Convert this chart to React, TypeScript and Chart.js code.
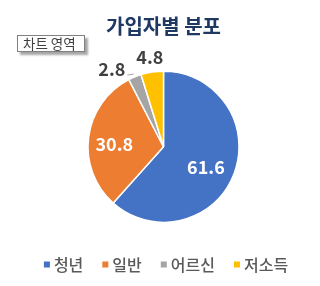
import React, { useEffect, useRef } from "react";
import { Chart, registerables } from "chart.js";

Chart.register(...registerables);

const chartTitle = "가입자별 분포";
const categories = ["청년", "일반", "어르신", "저소득"];
const values = [61.6, 30.8, 2.8, 4.8];
const colors = ["#4472C4", "#ED7D31", "#A5A5A5", "#FFC000"];
const areaTipText = "차트 영역";

const FONT = '"Noto Sans CJK KR", "Noto Sans", sans-serif';

const pieLabelsPlugin = {
  id: "pieLabels",
  afterDatasetsDraw(chart: any) {
    const ctx = chart.ctx;
    const meta = chart.getDatasetMeta(0);
    const ds = chart.data.datasets[0];
    const data = ds.data as number[];
    const total = data.reduce((a: number, b: number) => a + b, 0);
    ctx.save();
    ctx.font = `bold 18px ${FONT}`;
    ctx.textAlign = "center";
    ctx.textBaseline = "middle";
    const outside: any[] = [];
    meta.data.forEach((arc: any, i: number) => {
      const { x, y, startAngle, endAngle, outerRadius } = arc.getProps(
        ["x", "y", "startAngle", "endAngle", "outerRadius"],
        true
      );
      const mid = (startAngle + endAngle) / 2;
      const v = data[i];
      const text = v.toFixed(1);
      const w = ctx.measureText(text).width;
      const c = Math.cos(mid);
      const s = Math.sin(mid);
      if (v / total > 0.1) {
        const r = outerRadius * 0.63;
        ctx.fillStyle = "#FFFFFF";
        ctx.fillText(text, x + c * r - 2, y + s * r + 3);
      } else {
        const r = outerRadius + 15;
        outside.push({
          text,
          w,
          lx: x + c * r,
          ly: y + s * r,
          ax: x + c * (outerRadius + 3),
          ay: y + s * (outerRadius + 3),
          moved: false,
        });
      }
    });
    for (let i = outside.length - 2; i >= 0; i--) {
      const a = outside[i];
      const b = outside[i + 1];
      const gap = 11;
      if (a.lx + a.w / 2 + gap > b.lx - b.w / 2) {
        a.lx = b.lx - b.w / 2 - gap - a.w / 2;
        a.ly += 6;
        a.moved = true;
      }
    }
    outside.forEach((o) => {
      if (o.moved) {
        ctx.strokeStyle = "#A6A6A6";
        ctx.lineWidth = 1;
        ctx.beginPath();
        ctx.moveTo(o.lx + o.w / 2 + 2, o.ly + 6);
        ctx.lineTo(o.ax, o.ay);
        ctx.stroke();
      }
      ctx.fillStyle = "#404040";
      ctx.fillText(o.text, o.lx, o.ly);
    });
    ctx.restore();
  },
  afterDraw(chart: any) {
    const ctx = chart.ctx;
    const labels = chart.data.labels as string[];
    const bg = chart.data.datasets[0].backgroundColor as string[];
    ctx.save();
    ctx.font = `500 16px ${FONT}`;
    ctx.textBaseline = "middle";
    ctx.textAlign = "left";
    const box = 6;
    const boxGap = 4;
    const itemGap = 19;
    const widths = labels.map((l) => box + boxGap + ctx.measureText(l).width);
    const total = widths.reduce((a, b) => a + b, 0) + itemGap * (labels.length - 1);
    let x = chart.width / 2 + 6 - total / 2;
    const cy = 264.5;
    labels.forEach((l, i) => {
      ctx.fillStyle = bg[i];
      ctx.fillRect(x, cy - box / 2, box, box);
      ctx.fillStyle = "#595959";
      ctx.fillText(l, x + box + boxGap, cy);
      x += widths[i] + itemGap;
    });
    ctx.restore();
  },
};

export default function App() {
  const canvasRef = useRef<HTMLCanvasElement | null>(null);

  useEffect(() => {
    if (!canvasRef.current) return;
    const chart = new Chart(canvasRef.current, {
      type: "pie",
      data: {
        labels: categories,
        datasets: [
          {
            data: values,
            backgroundColor: colors,
            borderColor: "#FFFFFF",
            borderWidth: 1.5,
          },
        ],
      },
      options: {
        responsive: false,
        animation: false,
        layout: { padding: { left: 7, right: 0, top: 0, bottom: 63 } },
        plugins: {
          legend: { display: false },
          tooltip: { enabled: false },
          title: {
            display: true,
            text: chartTitle,
            color: "#1F3864",
            font: { family: FONT, size: 20, weight: "bold" },
            padding: { top: 14, bottom: 32.5 },
          },
        },
      },
      plugins: [pieLabelsPlugin],
    });
    return () => chart.destroy();
  }, []);

  return (
    <div
      style={{
        position: "absolute",
        left: 0,
        top: 0,
        width: 320,
        height: 286,
        background: "#FFFFFF",
      }}
    >
      <canvas ref={canvasRef} width={320} height={286} style={{ display: "block" }} />
      <div
        style={{
          position: "absolute",
          left: 17,
          top: 35,
          width: 66,
          height: 15,
          border: "1px solid #808080",
          background: "#FFFFFF",
          boxShadow: "3px 3px 2px rgba(0,0,0,0.35)",
          fontFamily: FONT,
          fontSize: 13.5,
          lineHeight: "15px",
          color: "#404040",
          boxSizing: "content-box",
          whiteSpace: "nowrap",
        }}
      >
        <span style={{ marginLeft: 5 }}>{areaTipText}</span>
      </div>
    </div>
  );
}
